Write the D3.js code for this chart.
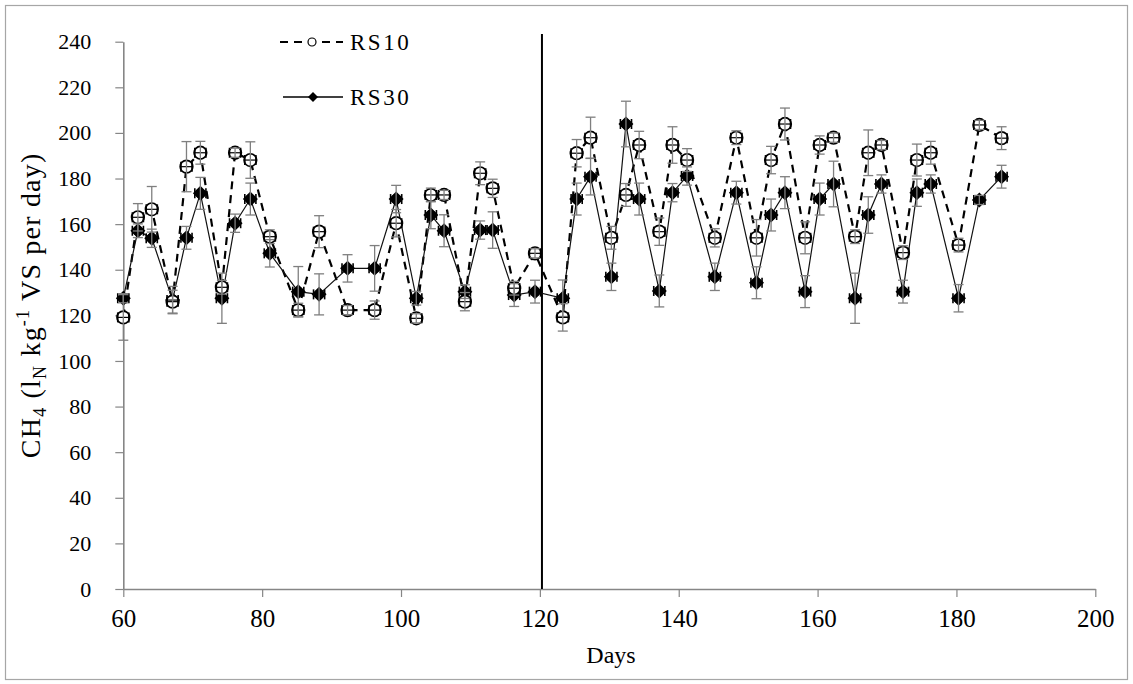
<!DOCTYPE html>
<html><head><meta charset="utf-8">
<script src="https://cdn.jsdelivr.net/npm/d3@7"></script>
<style>
html,body{margin:0;padding:0;background:#fff;}
svg{display:block;}
text{font-family:"Liberation Serif","Times New Roman",serif;fill:#000;}
</style></head>
<body>
<svg id="chart" width="1133" height="684"></svg>
<script>
// ---- data ----
const days = [60.0, 62.1, 64.1, 67.1, 69.1, 71.1, 74.2, 76.1, 78.3, 81.1, 85.2, 88.2, 92.3, 96.2, 99.3, 102.2, 104.3, 106.2, 109.2, 111.4, 113.2, 116.3, 119.3, 123.3, 125.3, 127.3, 130.3, 132.4, 134.3, 137.2, 139.1, 141.2, 145.2, 148.3, 151.2, 153.3, 155.3, 158.2, 160.3, 162.3, 165.4, 167.3, 169.2, 172.3, 174.3, 176.3, 180.3, 183.3, 186.5];
const rs10 = [119.1, 163.0, 166.5, 126.0, 185.2, 191.3, 132.3, 191.3, 188.1, 154.5, 122.3, 156.7, 122.3, 122.3, 160.4, 118.7, 172.8, 172.8, 126.0, 182.3, 175.7, 131.9, 147.2, 119.1, 191.1, 197.9, 154.0, 172.8, 194.7, 156.7, 194.7, 188.1, 154.0, 197.9, 154.0, 188.1, 203.9, 154.0, 194.7, 197.9, 154.5, 191.3, 194.7, 147.5, 188.1, 191.3, 150.8, 203.5, 197.7];
const rs30 = [127.5, 157.1, 153.8, 126.7, 154.0, 173.5, 127.5, 160.4, 171.0, 147.2, 130.4, 129.2, 140.6, 140.6, 171.0, 127.5, 164.0, 157.1, 130.4, 157.4, 157.4, 128.9, 130.4, 127.5, 171.0, 180.8, 136.9, 203.9, 171.0, 130.7, 173.8, 181.1, 136.9, 173.8, 134.3, 164.0, 173.8, 130.4, 171.0, 177.6, 127.5, 164.0, 177.6, 130.4, 173.8, 177.6, 127.5, 170.6, 180.8];
const rs10Err = [10, 6, 10, 5, 11, 5, 3, 2, 8, 3, 3, 7, 2, 4, 6, 2, 3, 2, 4, 5, 4, 3, 2, 6, 6, 9, 5, 5, 6, 6, 8, 5, 4, 3, 8, 6, 7, 7, 4, 2, 3, 10, 2, 3, 7, 5, 3, 2, 5];
const rs30Err = [2, 3, 4, 6, 5, 7, 11, 4, 7, 6, 11, 9, 6, 10, 6, 3, 6, 7, 3, 4, 8, 5, 5, 8, 7, 8, 6, 10, 7, 7, 4, 4, 6, 5, 7, 7, 7, 7, 7, 10, 11, 8, 4, 5, 6, 4, 6, 2, 5];
const dayErr = 0.8;
const xTicks = [60, 80, 100, 120, 140, 160, 180, 200];
const yTicks = [0, 20, 40, 60, 80, 100, 120, 140, 160, 180, 200, 220, 240];
const seriesNames = ["RS10", "RS30"];
const markerDay = 120.3;

// ---- layout ----
const svg = d3.select("#chart");
const x = d3.scaleLinear().domain([60, 200]).range([123.3, 1095.3]);
const y = d3.scaleLinear().domain([0, 240]).range([589, 41.7]);
const axisColor = "#868686";
const yFont = 22;

// outer frame
svg.append("rect").attr("x", 5.5).attr("y", 5.5).attr("width", 1122).attr("height", 674)
  .attr("fill", "#fff").attr("stroke", "#a6a6a6").attr("stroke-width", 1.2);

// axes
const gx = svg.append("g").attr("transform", `translate(0,${y(0)})`)
  .call(d3.axisBottom(x).tickValues(xTicks).tickSize(8).tickSizeOuter(0).tickPadding(12).tickFormat(d3.format("d")));
const gy = svg.append("g").attr("transform", `translate(${x(60)},0)`)
  .call(d3.axisLeft(y).tickValues(yTicks).tickSize(8).tickSizeOuter(0).tickPadding(24).tickFormat(d3.format("d")));
[gx, gy].forEach(g => {
  g.select(".domain").attr("stroke", axisColor).attr("stroke-width", 1.6);
  g.selectAll(".tick line").attr("stroke", axisColor).attr("stroke-width", 1.2);
  g.selectAll("text").attr("font-family", "Liberation Serif").attr("fill", "#000");
});
gx.selectAll("text").attr("font-size", 25).attr("text-anchor", "middle");
// right-align y labels 32px left of the axis (digits are 0.5em wide)
gy.selectAll("text").attr("font-size", yFont).attr("text-anchor", "middle")
  .attr("x", function(d) { return -32 - String(d).length * yFont * 0.25; });

// vertical separator
svg.append("line").attr("x1", x(markerDay)).attr("x2", x(markerDay))
  .attr("y1", 34).attr("y2", y(0)).attr("stroke", "#000").attr("stroke-width", 2);

// lines
const pts10 = days.map((d, i) => [d, rs10[i], rs10Err[i]]);
const pts30 = days.map((d, i) => [d, rs30[i], rs30Err[i]]);
const line = d3.line().x(p => x(p[0])).y(p => y(p[1]));
svg.append("path").datum(pts10).attr("d", line).attr("fill", "none")
  .attr("stroke", "#000").attr("stroke-width", 2.2).attr("stroke-dasharray", "8,6");
svg.append("path").datum(pts30).attr("d", line).attr("fill", "none")
  .attr("stroke", "#111").attr("stroke-width", 1.2);

// markers
const diamond = (cx, cy, r) => `M${cx},${cy - r}L${cx + r},${cy}L${cx},${cy + r}L${cx - r},${cy}Z`;
svg.append("g").selectAll("path").data(pts30).join("path")
  .attr("d", p => diamond(x(p[0]), y(p[1]), 7.5)).attr("fill", "#000");
svg.append("g").selectAll("circle").data(pts30).join("circle")
  .attr("cx", p => x(p[0])).attr("cy", p => y(p[1])).attr("r", 5.2).attr("fill", "#000");
svg.append("g").selectAll("circle").data(pts10).join("circle")
  .attr("cx", p => x(p[0])).attr("cy", p => y(p[1])).attr("r", 6.3)
  .attr("fill", "#fff").attr("stroke", "#000").attr("stroke-width", 1.7);

// error bars
function errBars(pts) {
  const g = svg.append("g");
  pts.forEach(p => {
    const cx = x(p[0]), cy = y(p[1]);
    const x1 = x(p[0] - dayErr), x2 = x(p[0] + dayErr);
    g.append("line").attr("x1", x1).attr("x2", x2).attr("y1", cy).attr("y2", cy).attr("stroke", "#000").attr("stroke-width", 1.2);
    [x1, x2].forEach(xx => g.append("line").attr("x1", xx).attr("x2", xx).attr("y1", cy - 5).attr("y2", cy + 5).attr("stroke", "#000").attr("stroke-width", 1.6));
    const yt = y(p[1] + p[2]), yb = y(p[1] - p[2]);
    g.append("line").attr("x1", cx).attr("x2", cx).attr("y1", yt).attr("y2", yb).attr("stroke", "#7f7f7f").attr("stroke-width", 1.3);
    [yt, yb].forEach(yy => g.append("line").attr("x1", cx - 5).attr("x2", cx + 5).attr("y1", yy).attr("y2", yy).attr("stroke", "#7f7f7f").attr("stroke-width", 1.3));
  });
}
errBars(pts30);
errBars(pts10);

// legend
const lg = svg.append("g");
lg.append("line").attr("x1", 280).attr("x2", 343).attr("y1", 42).attr("y2", 42)
  .attr("stroke", "#000").attr("stroke-width", 2.2).attr("stroke-dasharray", "8,6");
lg.append("circle").attr("cx", 312).attr("cy", 42).attr("r", 4).attr("fill", "#fff").attr("stroke", "#000").attr("stroke-width", 1.2);
lg.append("text").attr("x", 350).attr("y", 50).attr("font-size", 23).attr("letter-spacing", 2.5).text(seriesNames[0]);
lg.append("line").attr("x1", 283).attr("x2", 343).attr("y1", 97).attr("y2", 97)
  .attr("stroke", "#000").attr("stroke-width", 1.4);
lg.append("path").attr("d", diamond(313, 97, 5)).attr("fill", "#000");
lg.append("text").attr("x", 350).attr("y", 105).attr("font-size", 23).attr("letter-spacing", 2.5).text(seriesNames[1]);

// axis titles
svg.append("text").attr("x", 611).attr("y", 663).attr("text-anchor", "middle")
  .attr("font-size", 24).text("Days");
const yt = svg.append("text").attr("transform", `translate(40,${(y(0) + y(240)) / 2 - 10}) rotate(-90)`)
  .attr("text-anchor", "middle").attr("font-size", 28).attr("letter-spacing", 1.2);
yt.append("tspan").text("CH");
yt.append("tspan").attr("font-size", 18).attr("dy", 6).text("4");
yt.append("tspan").attr("dy", -6).text(" (l");
yt.append("tspan").attr("font-size", 18).attr("dy", 6).text("N");
yt.append("tspan").attr("dy", -6).text(" kg");
yt.append("tspan").attr("font-size", 18).attr("dy", -11).text("-1");
yt.append("tspan").attr("dy", 11).text(" VS per day)");
</script>
</body></html>
